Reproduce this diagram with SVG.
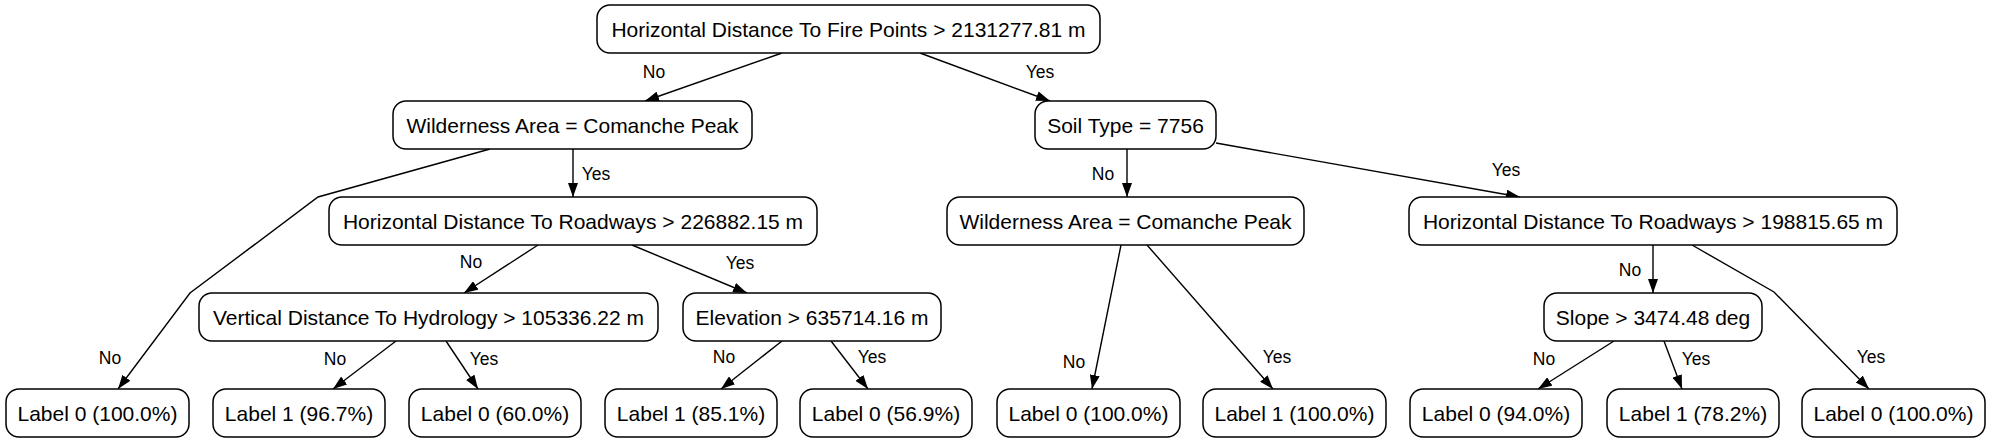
<svg xmlns="http://www.w3.org/2000/svg" width="1992" height="443" viewBox="0 0 1992 443">
<style>
.n rect{fill:#fff;stroke:#000;stroke-width:1.5}
.n text{font-family:"Liberation Sans",Arial,sans-serif;font-size:21px;fill:#000;text-anchor:middle}
.e path{fill:none;stroke:#000;stroke-width:1.4}
.e text{font-family:"Liberation Sans",Arial,sans-serif;font-size:17.5px;fill:#000;text-anchor:middle}
</style>
<defs>
<marker id="ah" markerUnits="userSpaceOnUse" markerWidth="14" markerHeight="10" refX="14" refY="5" orient="auto">
<path d="M0,0 L14,5 L0,10 Z" fill="#000"/>
</marker>
</defs>
<rect width="1992" height="443" fill="#fff"/>
<g class="e" id="connectors">
<path d="M782,53 L645,101" marker-end="url(#ah)"/><text x="654" y="78">No</text>
<path d="M920,53 L1050,101" marker-end="url(#ah)"/><text x="1040" y="78">Yes</text>
<path d="M573,149 L573,197" marker-end="url(#ah)"/><text x="596" y="180">Yes</text>
<path d="M490,149 L318,197 L190,293 L118,389" marker-end="url(#ah)"/><text x="110" y="364">No</text>
<path d="M538,245 L464,293" marker-end="url(#ah)"/><text x="471" y="268">No</text>
<path d="M632,245 L747,293" marker-end="url(#ah)"/><text x="740" y="269">Yes</text>
<path d="M1127,149 L1127,197" marker-end="url(#ah)"/><text x="1103" y="180">No</text>
<path d="M1216,143 L1520,197" marker-end="url(#ah)"/><text x="1506" y="176">Yes</text>
<path d="M1121,245 L1092,389" marker-end="url(#ah)"/><text x="1074" y="368">No</text>
<path d="M1147,245 L1273,389" marker-end="url(#ah)"/><text x="1277" y="363">Yes</text>
<path d="M1653,245 L1653,293" marker-end="url(#ah)"/><text x="1630" y="276">No</text>
<path d="M1692,245 L1774,292 L1869,389" marker-end="url(#ah)"/><text x="1871" y="363">Yes</text>
<path d="M396,341 L333,389" marker-end="url(#ah)"/><text x="335" y="365">No</text>
<path d="M446,341 L478,389" marker-end="url(#ah)"/><text x="484" y="365">Yes</text>
<path d="M782,341 L721,389" marker-end="url(#ah)"/><text x="724" y="363">No</text>
<path d="M831,341 L868,389" marker-end="url(#ah)"/><text x="872" y="363">Yes</text>
<path d="M1614,341 L1538,389" marker-end="url(#ah)"/><text x="1544" y="365">No</text>
<path d="M1664,341 L1682,389" marker-end="url(#ah)"/><text x="1696" y="365">Yes</text>
</g>
<g class="n" id="root"><rect x="597" y="5" width="503" height="48" rx="13"/><text x="848.5" y="37">Horizontal Distance To Fire Points &gt; 2131277.81 m</text></g>
<g class="n" id="wild1"><rect x="393" y="101" width="359" height="48" rx="13"/><text x="572.5" y="133">Wilderness Area = Comanche Peak</text></g>
<g class="n" id="soil"><rect x="1035" y="101" width="181" height="48" rx="13"/><text x="1125.5" y="133">Soil Type = 7756</text></g>
<g class="n" id="road1"><rect x="329" y="197" width="488" height="48" rx="13"/><text x="573" y="229">Horizontal Distance To Roadways &gt; 226882.15 m</text></g>
<g class="n" id="wild2"><rect x="947" y="197" width="357" height="48" rx="13"/><text x="1125.5" y="229">Wilderness Area = Comanche Peak</text></g>
<g class="n" id="road2"><rect x="1409" y="197" width="488" height="48" rx="13"/><text x="1653" y="229">Horizontal Distance To Roadways &gt; 198815.65 m</text></g>
<g class="n" id="vdist"><rect x="199" y="293" width="459" height="48" rx="13"/><text x="428.5" y="325">Vertical Distance To Hydrology &gt; 105336.22 m</text></g>
<g class="n" id="elev"><rect x="683" y="293" width="258" height="48" rx="13"/><text x="812" y="325">Elevation &gt; 635714.16 m</text></g>
<g class="n" id="slope"><rect x="1544" y="293" width="218" height="48" rx="13"/><text x="1653" y="325">Slope &gt; 3474.48 deg</text></g>
<g class="n" id="leaf1"><rect x="6" y="389" width="183" height="48" rx="13"/><text x="97.5" y="421">Label 0 (100.0%)</text></g>
<g class="n" id="leaf2"><rect x="213" y="389" width="172" height="48" rx="13"/><text x="299" y="421">Label 1 (96.7%)</text></g>
<g class="n" id="leaf3"><rect x="409" y="389" width="172" height="48" rx="13"/><text x="495" y="421">Label 0 (60.0%)</text></g>
<g class="n" id="leaf4"><rect x="605" y="389" width="172" height="48" rx="13"/><text x="691" y="421">Label 1 (85.1%)</text></g>
<g class="n" id="leaf5"><rect x="800" y="389" width="172" height="48" rx="13"/><text x="886" y="421">Label 0 (56.9%)</text></g>
<g class="n" id="leaf6"><rect x="997" y="389" width="183" height="48" rx="13"/><text x="1088.5" y="421">Label 0 (100.0%)</text></g>
<g class="n" id="leaf7"><rect x="1203" y="389" width="183" height="48" rx="13"/><text x="1294.5" y="421">Label 1 (100.0%)</text></g>
<g class="n" id="leaf8"><rect x="1410" y="389" width="172" height="48" rx="13"/><text x="1496" y="421">Label 0 (94.0%)</text></g>
<g class="n" id="leaf9"><rect x="1607" y="389" width="172" height="48" rx="13"/><text x="1693" y="421">Label 1 (78.2%)</text></g>
<g class="n" id="leaf10"><rect x="1802" y="389" width="183" height="48" rx="13"/><text x="1893.5" y="421">Label 0 (100.0%)</text></g>
</svg>
